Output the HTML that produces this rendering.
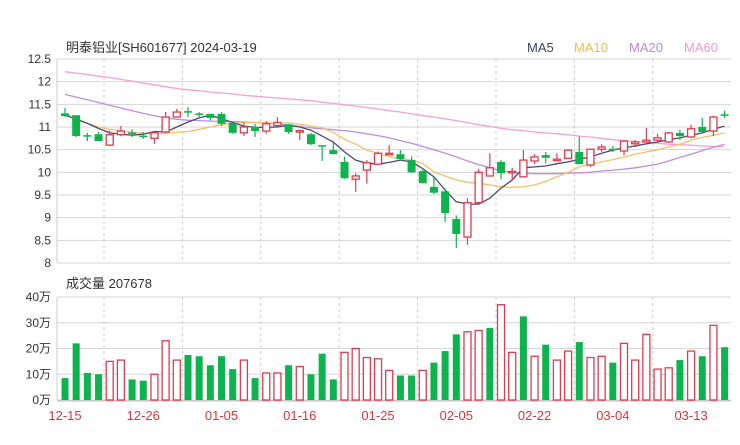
<!DOCTYPE html>
<html><head><meta charset="utf-8"><style>
body{margin:0;background:#fff;}
svg text{font-family:"Liberation Sans","Noto Sans CJK SC",sans-serif;}
</style></head><body>
<svg id="c" width="740" height="440" xmlns="http://www.w3.org/2000/svg"></svg>
<script>
const dates=["12-15","12-26","01-05","01-16","01-25","02-05","02-22","03-04","03-13"];
const dateIdx=[0,7,14,21,28,35,42,49,56];
const opens=[11.30,11.26,10.82,10.84,10.60,10.83,10.88,10.81,10.75,10.89,11.22,11.35,11.30,11.29,11.29,11.09,10.87,11.00,10.91,11.03,11.06,10.89,10.84,10.60,10.49,10.23,9.85,10.05,10.18,10.40,10.40,10.27,10.03,9.68,9.58,8.97,8.57,9.33,9.92,10.23,9.99,9.90,10.25,10.38,10.27,10.31,10.45,10.16,10.51,10.52,10.47,10.63,10.67,10.71,10.67,10.87,10.78,11.00,10.91,11.28];
const closes=[11.24,10.80,10.80,10.69,10.83,10.91,10.86,10.79,10.87,11.22,11.33,11.32,11.28,11.20,11.07,10.87,11.00,10.91,11.07,11.10,10.89,10.92,10.62,10.58,10.40,9.87,9.92,10.21,10.42,10.42,10.29,10.00,9.76,9.55,9.10,8.64,9.33,10.00,10.10,9.98,10.02,10.27,10.34,10.32,10.29,10.49,10.18,10.51,10.56,10.50,10.69,10.67,10.71,10.76,10.87,10.80,10.96,10.89,11.22,11.25];
const highs=[11.42,11.26,10.87,10.89,10.92,11.02,10.95,10.89,10.90,11.33,11.40,11.44,11.33,11.29,11.33,11.09,11.10,11.07,11.13,11.22,11.07,10.93,10.87,10.60,10.65,10.35,9.98,10.27,10.46,10.60,10.49,10.35,10.05,9.90,9.65,9.05,9.43,10.07,10.42,10.27,10.10,10.49,10.40,10.45,10.42,10.51,10.79,10.51,10.62,10.58,10.71,10.71,10.98,10.85,10.89,10.94,11.05,11.20,11.25,11.36];
const lows=[11.22,10.78,10.69,10.69,10.58,10.80,10.78,10.74,10.63,10.87,11.22,11.22,11.22,11.15,11.02,10.85,10.80,10.78,10.85,11.02,10.85,10.71,10.60,10.25,10.40,9.85,9.57,9.75,10.18,10.40,10.27,9.98,9.76,9.52,8.90,8.33,8.40,9.33,9.92,9.85,9.83,9.90,10.18,10.20,10.24,10.29,10.18,10.12,10.45,10.45,10.38,10.56,10.67,10.65,10.65,10.71,10.76,10.89,10.80,11.20];
const ma5=[11.26,11.17,11.08,10.97,10.87,10.84,10.82,10.84,10.90,10.89,11.00,11.11,11.20,11.26,11.18,11.10,11.02,10.99,10.99,11.00,11.04,11.00,10.93,10.80,10.67,10.45,10.27,10.20,10.18,10.22,10.27,10.23,10.08,9.90,9.61,9.35,9.30,9.30,9.43,9.65,9.83,10.10,10.12,10.14,10.19,10.23,10.29,10.34,10.42,10.49,10.54,10.58,10.63,10.67,10.72,10.76,10.82,10.87,10.95,11.02];
const ma10=[11.30,11.20,11.08,11.00,10.95,10.92,10.88,10.86,10.85,10.86,10.88,10.90,10.95,11.00,11.05,11.08,11.10,11.10,11.10,11.08,11.09,11.06,11.02,10.98,10.88,10.73,10.62,10.49,10.42,10.34,10.30,10.27,10.20,10.01,9.92,9.83,9.78,9.76,9.72,9.68,9.67,9.68,9.72,9.80,9.90,10.00,10.12,10.18,10.23,10.28,10.34,10.40,10.45,10.50,10.56,10.62,10.71,10.77,10.82,10.87];
const ma20=[11.72,11.66,11.60,11.54,11.48,11.42,11.36,11.30,11.25,11.20,11.17,11.15,11.14,11.13,11.12,11.12,11.11,11.10,11.09,11.07,11.04,11.01,10.98,10.96,10.94,10.92,10.89,10.85,10.81,10.76,10.70,10.64,10.57,10.50,10.42,10.34,10.25,10.17,10.10,10.03,10.00,9.98,9.97,9.97,9.97,9.98,9.99,10.00,10.03,10.05,10.07,10.10,10.14,10.18,10.25,10.33,10.40,10.48,10.55,10.62];
const ma60=[12.22,12.19,12.16,12.12,12.09,12.05,12.01,11.97,11.93,11.89,11.85,11.82,11.80,11.77,11.75,11.73,11.70,11.68,11.66,11.64,11.62,11.60,11.58,11.55,11.52,11.49,11.46,11.43,11.40,11.36,11.33,11.29,11.25,11.22,11.18,11.14,11.10,11.05,11.01,10.97,10.94,10.92,10.89,10.87,10.85,10.83,10.80,10.78,10.75,10.72,10.70,10.68,10.66,10.64,10.62,10.61,10.60,10.58,10.57,10.56];
const volumes=[8.5,22,10.5,10,15,15.5,8,7.5,10,23,15.5,17.5,17,13.5,17,12,15.5,8.5,10.5,10.5,13.5,13,10,18,8,18.5,20,16.5,16,11.5,9.5,9.5,11.5,14.5,19,25.5,26.5,27,28,37,18.5,32.5,17,21.5,15.5,19,22.5,16.5,17,14.5,22,15.5,25.5,12,12.5,15.5,19,17,29,20.5];
const volUp=[0,0,0,0,1,1,0,0,1,1,1,0,0,0,0,0,1,0,1,1,0,1,0,0,0,1,1,1,1,1,0,0,1,0,0,0,1,1,0,1,1,0,1,0,1,1,0,1,1,0,1,1,1,1,1,0,1,0,1,0];
const priceTicks=["12.5","12","11.5","11","10.5","10","9.5","9","8.5","8"];
const volTicks=["40万","30万","20万","10万","0万"];

const NS="http://www.w3.org/2000/svg";
const svg=document.getElementById('c');
const RED="#e23a4e",GREEN="#0db34c";
const L=57,R=731;
const X=i=>65+i*11.18;
const Y=v=>59+(12.5-v)*45.33;
const VY=v=>400-v*2.575;
function mk(t,a,p){const e=document.createElementNS(NS,t);for(const k in a)e.setAttribute(k,a[k]);(p||svg).appendChild(e);return e;}

// grid
priceTicks.forEach((t,k)=>{const v=parseFloat(t);
 const g=mk('line',{x1:L,x2:R,y1:Y(v),y2:Y(v),stroke:'#d6d6d6','stroke-width':1});
 
 
 const tx=mk('text',{x:51,y:Y(v)+4,'text-anchor':'end','font-size':12,fill:'#333'});tx.textContent=t;
 
 
});
volTicks.forEach((t,k)=>{const v=40-k*10;
 const g=mk('line',{x1:L,x2:R,y1:VY(v),y2:VY(v),stroke:'#d6d6d6','stroke-width':1});
 
 
 const tx=mk('text',{x:51,y:VY(v)+4,'text-anchor':'end','font-size':12,fill:'#333'});tx.textContent=t;
 
 
});
for(let k=0;k<8;k++){const x=104+k*78.4;
 const d1=mk('line',{x1:x,x2:x,y1:59,y2:263,stroke:'#d0d0d0','stroke-dasharray':'3,3'});
 
 
 const d2=mk('line',{x1:x,x2:x,y1:297,y2:400,stroke:'#d0d0d0','stroke-dasharray':'3,3'});
 
 
}
[[59,263],[297,400]].forEach(a=>{const l=mk('line',{x1:L,x2:L,y1:a[0],y2:a[1],stroke:'#ccc'});
 
 });
const xa=mk('line',{x1:L,x2:R,y1:401,y2:401,stroke:'#bbb'});



// MA lines
function line(arr,col,name){const p=arr.map((v,i)=>(i?'L':'M')+X(i).toFixed(1)+','+Y(v).toFixed(1)).join('');
 const e=mk('path',{d:p,fill:'none',stroke:col,'stroke-width':1.3});
 
 }
line(ma60,'#f4a3cf','ma60-line');line(ma20,'#bc8fe0','ma20-line');line(ma10,'#f7c06a','ma10-line');line(ma5,'#4b4b70','ma5-line');

// candles
opens.forEach((o,i)=>{const c=closes[i],up=c>=o,col=up?RED:GREEN,x=X(i);
 const g=mk('g',{});
 
 
 const top=Math.max(o,c),bot=Math.min(o,c);
 mk('line',{x1:x,x2:x,y1:Y(highs[i]),y2:Y(top),stroke:col,'stroke-width':1.2},g);
 mk('line',{x1:x,x2:x,y1:Y(bot),y2:Y(lows[i]),stroke:col,'stroke-width':1.2},g);
 const h=Math.max(1.5,Y(bot)-Y(top));
 if(up)mk('rect',{x:x-3.5,y:Y(top),width:7,height:h,fill:'#fff',stroke:col,'stroke-width':1.3},g);
 else mk('rect',{x:x-4,y:Y(top),width:8,height:h,fill:col},g);
});
// volume
volumes.forEach((v,i)=>{const x=X(i),up=volUp[i];
 const r=up?mk('rect',{x:x-3.5,y:VY(v),width:7,height:400-VY(v),fill:'#fff',stroke:RED,'stroke-width':1.3})
 :mk('rect',{x:x-3.5,y:VY(v),width:7,height:400-VY(v),fill:GREEN});
 
 
});
// x labels
dates.forEach((d,k)=>{const t=mk('text',{x:X(dateIdx[k]),y:420,'text-anchor':'middle','font-size':13,fill:'#e0323c'});t.textContent=d;
 
 });
// titles / legend
const tt=mk('text',{x:66,y:52,'font-size':13,fill:'#333'});tt.textContent='明泰铝业[SH601677] 2024-03-19';


const vt=mk('text',{x:66,y:288,'font-size':13,fill:'#333'});vt.textContent='成交量 207678';


[['MA5',527,'#3d3d6b'],['MA10',574,'#f5b84c'],['MA20',629,'#b68bd9'],['MA60',684,'#f29ac9']].forEach(a=>{
 const t=mk('text',{x:a[1],y:52,'font-size':13,fill:a[2]});t.textContent=a[0];
 
 });
</script>
</body></html>
